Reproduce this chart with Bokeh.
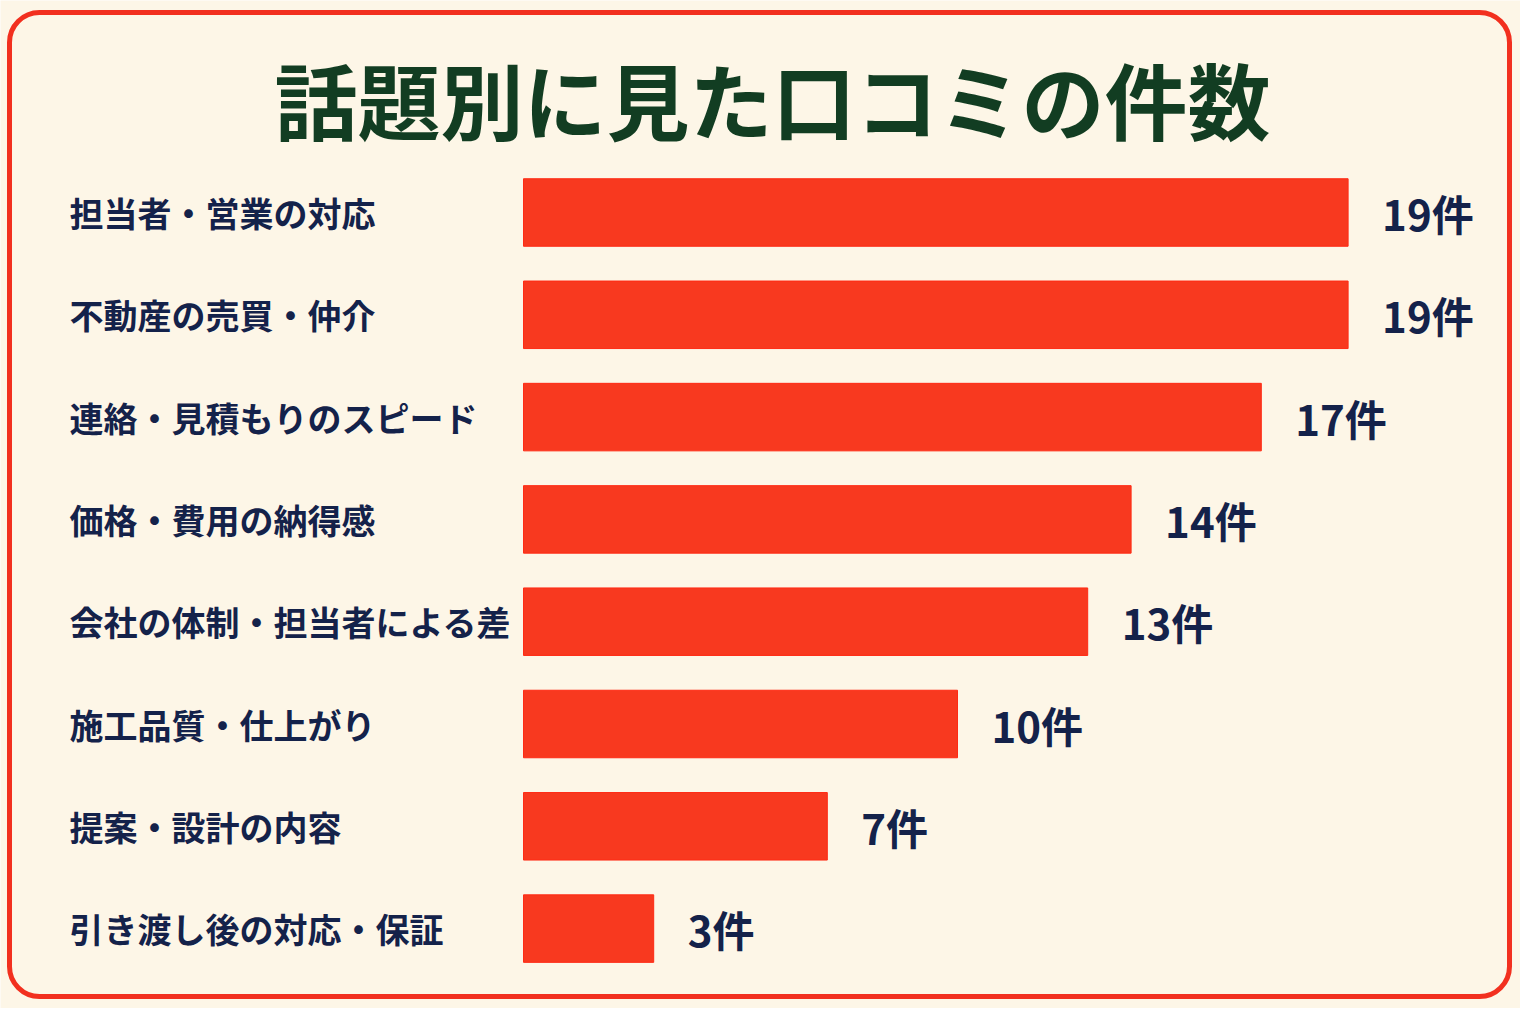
from bokeh.plotting import figure
from bokeh.models import Range1d, BoxAnnotation, ColumnDataSource
from bokeh.core.properties import value
from bokeh.embed import file_html
from bokeh.resources import INLINE

# dados do gráfico
titulo = "話題別に見た口コミの件数"
categorias = [
    "担当者・営業の対応",
    "不動産の売買・仲介",
    "連絡・見積もりのスピード",
    "価格・費用の納得感",
    "会社の体制・担当者による差",
    "施工品質・仕上がり",
    "提案・設計の内容",
    "引き渡し後の対応・保証",
]
contagens = [19, 19, 17, 14, 13, 10, 7, 3]
unidade = "件"

FONTE = "Noto Sans CJK JP"
FUNDO = "#FDF6E7"
VERMELHO = "#F8391F"
AZUL = "#14224A"
VERDE = "#123D22"

W, H = 1520, 1008
# escala em pixels: onde as barras começam e quanto vale cada unidade
BAR_ESQ = 523
PX_UNID = 43.4
LINHA_PX = 102.3
TOPO = 212


def px_x(px):
    return (px - BAR_ESQ) / PX_UNID


def px_y(px):
    return (px - TOPO) / LINHA_PX


def gerar_grafico():
    indices = list(range(len(categorias)))
    fonte = ColumnDataSource(dict(
        y=indices,
        cat=categorias,
        n=contagens,
        rotulo=[f"{c}{unidade}" for c in contagens],
    ))

    p = figure(width=W, height=H, output_backend="svg", toolbar_location=None,
               x_range=Range1d(px_x(0), px_x(W)),
               y_range=Range1d(px_y(H), px_y(0)),
               x_axis_location=None, y_axis_location=None,
               min_border=0, tools="")
    p.background_fill_color = FUNDO
    p.border_fill_color = FUNDO
    p.outline_line_color = None
    p.grid.visible = False

    # moldura arredondada
    p.add_layout(BoxAnnotation(left=px_x(9), right=px_x(1509),
                               top=px_y(12), bottom=px_y(996),
                               fill_alpha=0, line_color="#F2301F",
                               line_alpha=1, line_width=5, border_radius=30))

    p.hbar(y="y", left=0, right="n", height=0.66, source=fonte,
           fill_color=VERMELHO, line_color="#FF2A14", line_width=1)

    p.text(x=px_x(69), y="y", text="cat", source=fonte,
           text_font=value(FONTE), text_font_style="bold",
           text_font_size="34px", text_color=AZUL,
           text_align="left", text_baseline="middle")

    p.text(x="n", y="y", text="rotulo", source=fonte, x_offset=34,
           text_font=value(FONTE), text_font_style="bold",
           text_font_size="42px", text_color=AZUL,
           text_align="left", text_baseline="middle")

    p.text(x=[px_x(772)], y=[px_y(97)], text=[titulo],
           text_font=value(FONTE), text_font_style="bold",
           text_font_size="83px", text_color=VERDE,
           text_align="center", text_baseline="middle")

    with open("out.html", "w") as f:
        f.write(file_html(p, INLINE))


if __name__ == '__main__':
    gerar_grafico()
